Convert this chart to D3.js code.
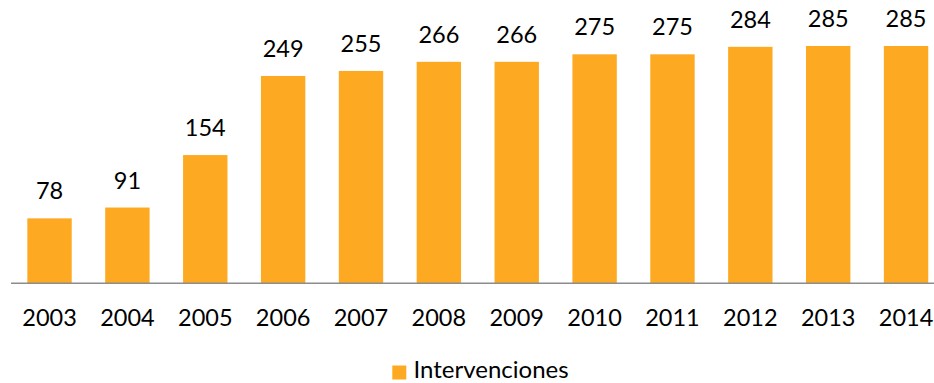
<!DOCTYPE html>
<html>
<head>
<meta charset="utf-8">
<script src="https://cdn.jsdelivr.net/npm/d3@7"></script>
<style>
  html, body { margin: 0; padding: 0; background: #fff; }
  svg { display: block; }
  text { font-family: Lato, "Open Sans", sans-serif; fill: #000; }
</style>
</head>
<body>
<svg id="chart" width="934" height="383"></svg>
<script>
// Interventions per year
const years = ["2003","2004","2005","2006","2007","2008","2009","2010","2011","2012","2013","2014"];
const intervenciones = [78, 91, 154, 249, 255, 266, 266, 275, 275, 284, 285, 285];
const seriesName = "Intervenciones";

const svg = d3.select("#chart");
const baseY = 283.3;

const x = d3.scaleBand()
  .domain(years)
  .range([10.6, 945])
  .paddingInner(0.43)
  .paddingOuter(0.215);

const y = d3.scaleLinear()
  .domain([0, 300])
  .range([baseY, baseY - 249.8]);

const color = "#FDAA22";
const rows = years.map((yr, i) => ({ yr, v: intervenciones[i] }));

// Bars
svg.append("g")
  .selectAll("rect")
  .data(rows)
  .join("rect")
  .attr("x", d => x(d.yr))
  .attr("y", d => y(d.v))
  .attr("width", x.bandwidth())
  .attr("height", d => y(0) - y(d.v))
  .attr("fill", color);

// Value labels
svg.append("g")
  .selectAll("text")
  .data(rows)
  .join("text")
  .attr("x", d => x(d.yr) + x.bandwidth() / 2)
  .attr("y", d => y(d.v) - 19)
  .attr("text-anchor", "middle")
  .style("font-size", "23.5px")
  .text(d => d.v);

// Category axis
const xAxis = svg.append("g")
  .attr("transform", `translate(0,${baseY})`)
  .call(d3.axisBottom(x).tickSize(0).tickPadding(0));
xAxis.select(".domain").remove();
xAxis.selectAll("text")
  .attr("dy", null)
  .attr("y", 42.7)
  .style("font-size", "23.5px")
  .style("font-family", "Lato, 'Open Sans', sans-serif")
  .attr("fill", "#000");

svg.append("line")
  .attr("x1", 11).attr("x2", 934)
  .attr("y1", baseY).attr("y2", baseY)
  .attr("stroke", "#8C8C8C")
  .attr("stroke-width", 1.5);

// Legend
const legend = svg.append("g");
legend.append("rect")
  .attr("x", 392.3).attr("y", 365.5)
  .attr("width", 14).attr("height", 14)
  .attr("fill", color);
legend.append("text")
  .attr("x", 413.5).attr("y", 378)
  .style("font-size", "24px")
  .text(seriesName);
</script>
</body>
</html>
